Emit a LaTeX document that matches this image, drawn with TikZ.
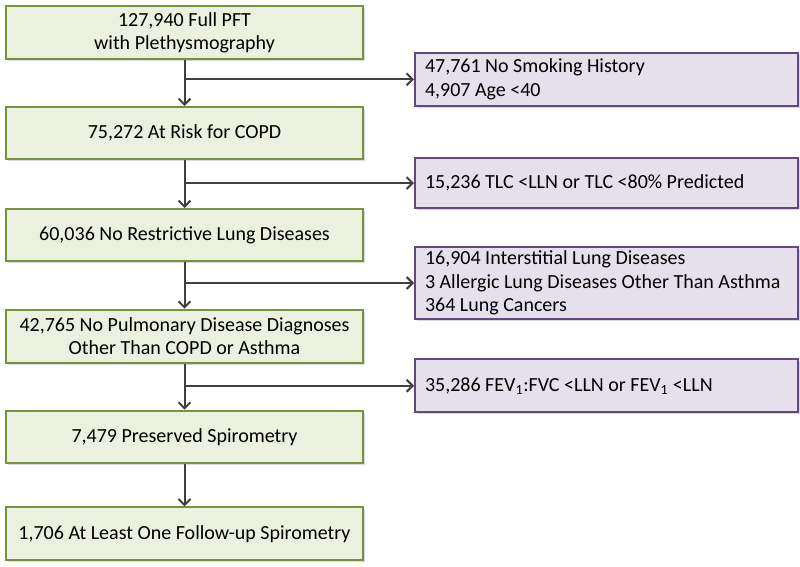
\documentclass[tikz,border=0pt]{standalone}
\usepackage{fontspec}
\setmainfont{Carlito}
\usepackage{tikz}
\usepackage{xcolor}
\usetikzlibrary{positioning,arrows.meta,shadows,calc}

\definecolor{stagefill}{RGB}{235,241,222}
\definecolor{stageline}{RGB}{119,147,60}
\definecolor{exclfill}{RGB}{229,224,236}
\definecolor{exclline}{RGB}{96,74,123}
\definecolor{flowgray}{RGB}{64,64,64}

\begin{document}
\begin{tikzpicture}[x=0.75pt,y=-0.75pt,font=\fontsize{15}{17.5}\selectfont]
  \tikzstyle{stage}=[draw=stageline,fill=stagefill,line width=1.5pt,minimum width=267.75pt,minimum height=39pt,inner sep=1pt,align=center,drop shadow={shadow xshift=1.5pt,shadow yshift=-1.5pt,opacity=0.3}]
  \tikzstyle{excl}=[draw=exclline,fill=exclfill,line width=1.5pt,text width=272pt,inner xsep=7.5pt,inner ysep=0pt,minimum height=39.75pt,align=flush left,drop shadow={shadow xshift=1.5pt,shadow yshift=-1.5pt,opacity=0.3}]
  \tikzstyle{flow}=[draw=flowgray,line width=1.5pt,-{Straight Barb[length=4.5pt,width=9pt]}]
  \useasboundingbox (0,0) rectangle (800,567);
  % Main cohort (left column)
  \node[stage,minimum height=39.75pt,anchor=north] (pft) at (184.5,5) {127,940 Full PFT\\with Plethysmography};
  \node[stage,below=34.5pt of pft] (risk) {75,272 At Risk for COPD};
  \node[stage,below=36pt of risk] (norestr) {60,036 No Restrictive Lung Diseases};
  \node[stage,below=35pt of norestr,minimum height=39.75pt] (nopulm) {42,765 No Pulmonary Disease Diagnoses\\Other Than COPD or Asthma};
  \node[stage,below=34.5pt of nopulm] (preserved) {7,479 Preserved Spirometry};
  \node[stage,below=32pt of preserved,minimum height=39.75pt] (followup) {1,706 At Least One Follow-up Spirometry};
  % Branch points
  \coordinate (j1) at ($(pft.south)!0.42!(risk.north)$);
  \coordinate (j2) at ($(risk.south)!0.48!(norestr.north)$);
  \coordinate (j3) at ($(norestr.south)!0.45!(nopulm.north)$);
  \coordinate (j4) at ($(nopulm.south)!0.48!(preserved.north)$);
  \coordinate (xcol) at ($(pft.east)+(50,0)$);
  % Exclusions (right column)
  \node[excl,anchor=west] (nosmoke) at (j1 -| xcol) {47,761 No Smoking History\\4,907 Age <40};
  \node[excl,anchor=west,minimum height=37.5pt] (restrict) at (j2 -| xcol) {15,236 TLC <LLN or TLC <80\% Predicted};
  \node[excl,anchor=west,minimum height=54pt] (otherdx) at (j3 -| xcol) {16,904 Interstitial Lung Diseases\\3 Allergic Lung Diseases Other Than Asthma\\364 Lung Cancers};
  \node[excl,anchor=west] (obstruct) at (j4 -| xcol) {35,286 FEV\textsubscript{1}:FVC <LLN or FEV\textsubscript{1} <LLN};
  % Edges
  \draw[flow] (pft) -- (risk);
  \draw[flow] (risk) -- (norestr);
  \draw[flow] (norestr) -- (nopulm);
  \draw[flow] (nopulm) -- (preserved);
  \draw[flow] (preserved) -- (followup);
  \draw[flow] (j1) -- (nosmoke);
  \draw[flow] (j2) -- (restrict);
  \draw[flow] (j3) -- (otherdx);
  \draw[flow] (j4) -- (obstruct);
\end{tikzpicture}
\end{document}
